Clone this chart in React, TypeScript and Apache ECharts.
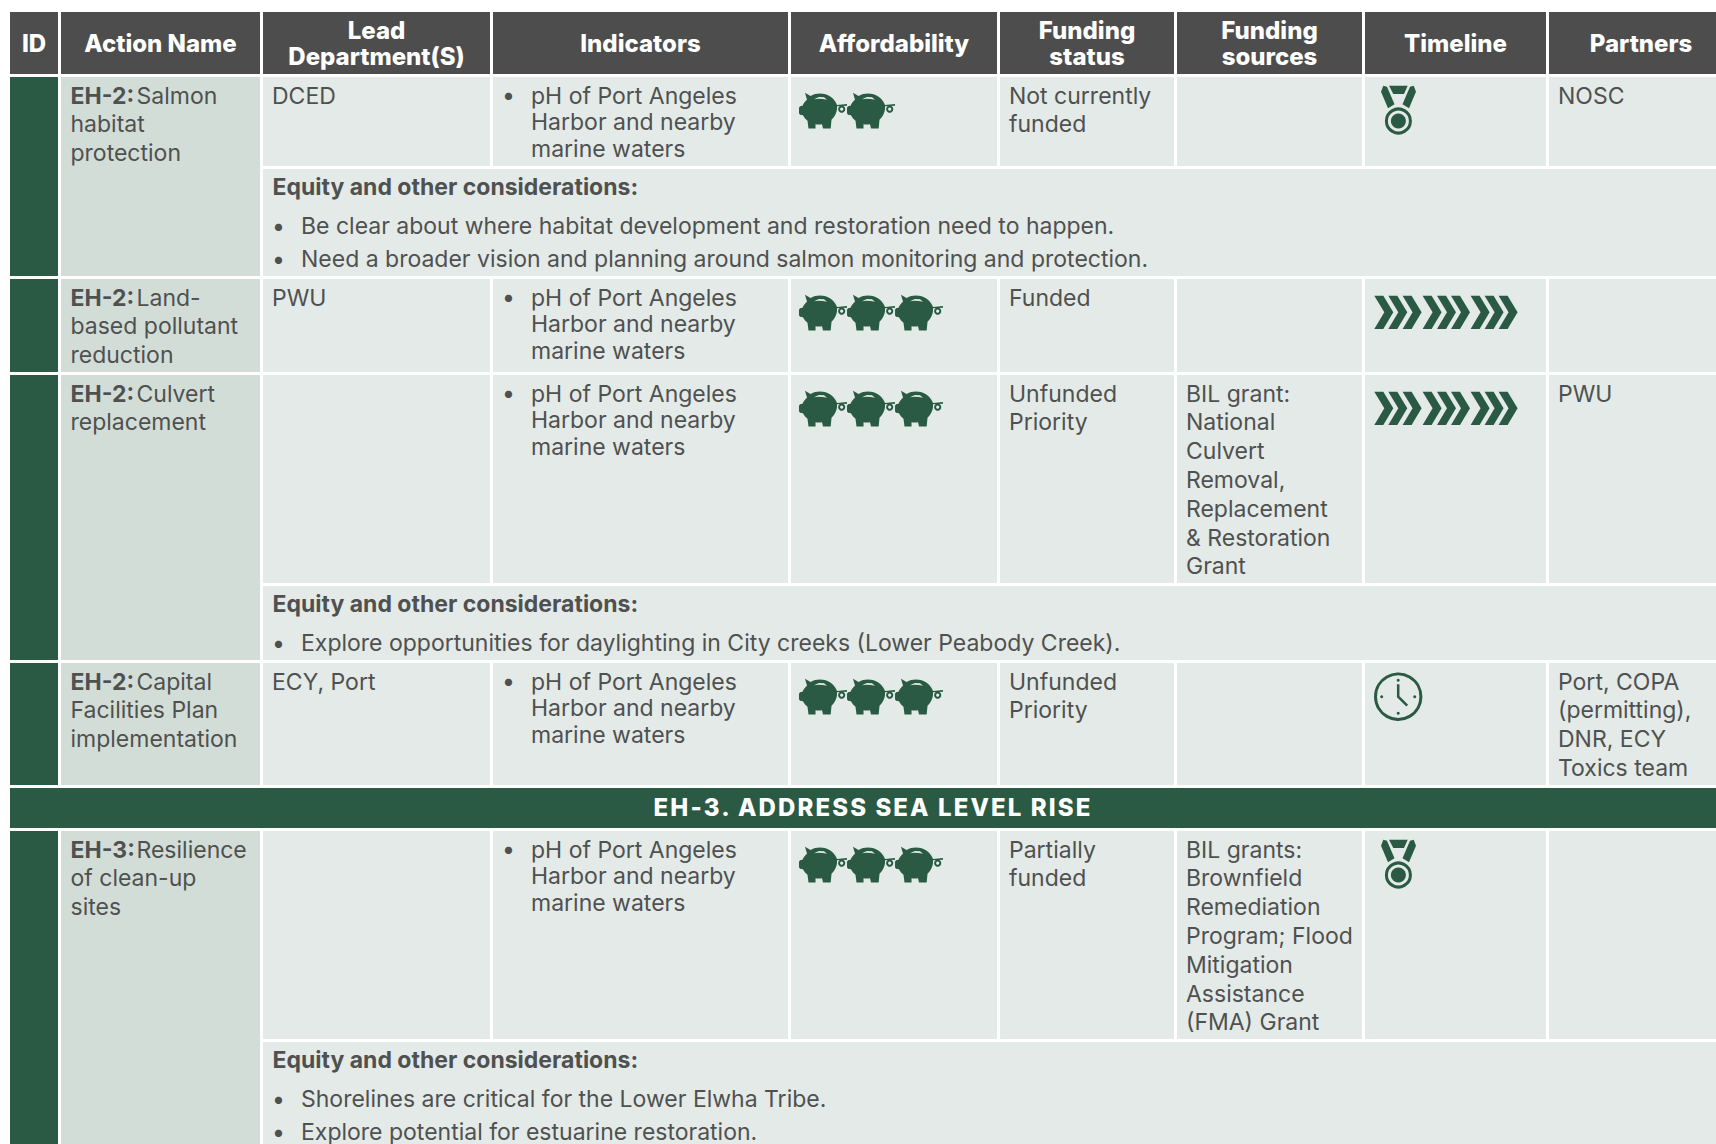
import React, { useEffect, useRef } from "react";
import * as echarts from "echarts";

const GREEN = "#2a5a43";
const HEAD = "#4d4d4d";
const TEXT = "#4f5150";
const CELL = "#e4eae7";
const NAME = "#d3ddd7";
const FONT = "Inter";

const colX = [10, 61, 263, 493, 791, 1000, 1177, 1365, 1549, 1716];
const headerLabels = [["ID"], ["Action Name"], ["Lead", "Department(S)"], ["Indicators"], ["Affordability"], ["Funding", "status"], ["Funding", "sources"], ["Timeline"], ["Partners"]];
const partnersHeaderCentre = 1641;

const indicator = ["pH of Port Angeles", "Harbor and nearby", "marine waters"];
type Row = { top: number; split: number; bottom: number; code: string; name: string[]; lead: string[]; pigs: number; status: string[]; sources: string[]; timeline: string; partners: string[]; notes: string[] };
const rows: Row[] = [
  { top: 77, split: 166, bottom: 276, code: "EH-2:", name: ["Salmon", "habitat", "protection"], lead: ["DCED"], pigs: 2, status: ["Not currently", "funded"], sources: [], timeline: "medal", partners: ["NOSC"], notes: ["Be clear about where habitat development and restoration need to happen.", "Need a broader vision and planning around salmon monitoring and protection."] },
  { top: 279, split: 372, bottom: 372, code: "EH-2:", name: ["Land-", "based pollutant", "reduction"], lead: ["PWU"], pigs: 3, status: ["Funded"], sources: [], timeline: "chevrons", partners: [], notes: [] },
  { top: 375, split: 583, bottom: 660, code: "EH-2:", name: ["Culvert", "replacement"], lead: [], pigs: 3, status: ["Unfunded", "Priority"], sources: ["BIL grant:", "National", "Culvert", "Removal,", "Replacement", "& Restoration", "Grant"], timeline: "chevrons", partners: ["PWU"], notes: ["Explore opportunities for daylighting in City creeks (Lower Peabody Creek)."] },
  { top: 663, split: 785, bottom: 785, code: "EH-2:", name: ["Capital", "Facilities Plan", "implementation"], lead: ["ECY, Port"], pigs: 3, status: ["Unfunded", "Priority"], sources: [], timeline: "clock", partners: ["Port, COPA", "(permitting),", "DNR, ECY", "Toxics team"], notes: [] },
  { top: 831, split: 1039, bottom: 1144, code: "EH-3:", name: ["Resilience", "of clean-up", "sites"], lead: [], pigs: 3, status: ["Partially", "funded"], sources: ["BIL grants:", "Brownfield", "Remediation", "Program; Flood", "Mitigation", "Assistance", "(FMA) Grant"], timeline: "medal", partners: [], notes: ["Shorelines are critical for the Lower Elwha Tribe.", "Explore potential for estuarine restoration."] },
];
const banner = { top: 788, bottom: 828, label: "EH-3. ADDRESS SEA LEVEL RISE" };
const notesTitle = "Equity and other considerations:";

const PIG = "M6 0 L11.5 3.2 C14 1.5 18 0.7 21 0.7 C29 0.7 35 5 37.5 11 L38 12.2 L48 11.3 L48 13 L38 13.6 C38.5 19 36 24 32.5 27 L31.7 35.7 L24 35.7 L23 31.5 C20.5 32 18.5 32 16.5 31.5 L16.5 35.7 L9.5 35.7 L8.5 28 C6.5 26.5 5 24.5 4 22.5 L1 22 L0 20.5 L0 15 L1 13.5 L3.5 13 C4.5 10.5 6 8.5 8 7 Z";
const MEDAL = "M8 0 L26.7 0 L23 8.3 L12.3 8.3 Z M2.3 0 L6 1 L13.5 18.5 L7 22.5 L0 6 Z M32.7 0 L29 1 L21.5 18.5 L28 22.5 L35 6 Z";
echarts.graphic.registerShape("pig", echarts.graphic.extendPath(PIG, {}));
echarts.graphic.registerShape("medal", echarts.graphic.extendPath(MEDAL, {}));

function txt(x: number, y: number, s: string, o: any = {}) {
  return { type: "text", x, y, silent: true, style: { text: s, fill: o.fill ?? TEXT, font: `${o.weight ?? 400} ${o.size ?? 23}px ${FONT}`, textAlign: o.align ?? "left", textVerticalAlign: "middle", textBaseline: "middle" } };
}
function rect(x: number, y: number, w: number, h: number, fill: string) {
  return { type: "rect", shape: { x, y, width: w, height: h }, style: { fill }, silent: true };
}
function pigIcon(x: number, y: number) {
  return { type: "group", children: [
    { type: "pig", x, y, style: { fill: GREEN }, silent: true },
    { type: "circle", shape: { cx: x + 42.7, cy: y + 16.5, r: 2.6 }, style: { fill: "none", stroke: GREEN, lineWidth: 2 }, silent: true },
    { type: "polygon", shape: { points: [[x + 15, y + 6.5], [x + 20, y + 4.3], [x + 25, y + 4.6], [x + 28, y + 7], [x + 24, y + 6.3], [x + 20, y + 6]] }, style: { fill: CELL }, silent: true },
  ] };
}
function medalIcon(x: number, y: number) {
  return { type: "group", children: [
    { type: "medal", x, y, style: { fill: GREEN }, silent: true },
    { type: "circle", shape: { cx: x + 17.4, cy: y + 35.3, r: 12 }, style: { fill: "none", stroke: GREEN, lineWidth: 3 }, silent: true },
    { type: "circle", shape: { cx: x + 17.4, cy: y + 35.3, r: 7.5 }, style: { fill: GREEN }, silent: true },
  ] };
}
function chevronIcon(x: number, y: number) {
  const offs = [0, 14, 28.3, 48.3, 62.7, 76.7, 96.3, 110.3, 124.3];
  return { type: "group", children: offs.map((o) => ({ type: "polygon", shape: { points: [[x + o, y], [x + o + 9, y], [x + o + 19, y + 16.6], [x + o + 9, y + 33.3], [x + o, y + 33.3], [x + o + 10, y + 16.6]] }, style: { fill: GREEN }, silent: true })) };
}
function clockIcon(x: number, y: number) {
  const c = { x: x + 24.2, y: y + 24.4 };
  const dot = (dx: number, dy: number) => ({ type: "circle", shape: { cx: c.x + dx, cy: c.y + dy, r: 1.5 }, style: { fill: GREEN }, silent: true });
  return { type: "group", children: [
    { type: "circle", shape: { cx: c.x, cy: c.y, r: 22.7 }, style: { fill: "none", stroke: GREEN, lineWidth: 3 }, silent: true },
    dot(0, -16.5), dot(0, 16.5), dot(-16.5, 0), dot(16.5, 0),
    { type: "polyline", shape: { points: [[c.x, c.y - 12.5], [c.x, c.y], [c.x + 9, c.y + 9]] }, style: { fill: "none", stroke: GREEN, lineWidth: 2.5 }, silent: true },
  ] };
}

const LH = 28.8;
function lines(x: number, y: number, arr: string[], o: any = {}) {
  return arr.map((s, i) => txt(x, y + i * LH, s, o));
}

function build() {
  const els: any[] = [];
  colX.slice(0, -1).forEach((x, i) => {
    const right = i === colX.length - 2 ? 1716 : colX[i + 1] - 3;
    els.push(rect(x, 12, right - x, 62, HEAD));
    const cx = i === colX.length - 2 ? partnersHeaderCentre : (x + right) / 2;
    const ls = headerLabels[i];
    ls.forEach((s, j) => {
      els.push(txt(cx, 43.5 + (j - (ls.length - 1) / 2) * 26.5, s, { fill: "#fff", weight: 800, size: 24, align: "center" }));
    });
  });
  rows.forEach((r) => {
    els.push(rect(colX[0], r.top, colX[1] - 3 - colX[0], r.bottom - r.top, GREEN));
    els.push(rect(colX[1], r.top, colX[2] - 3 - colX[1], r.bottom - r.top, NAME));
    for (let i = 2; i < 9; i++) {
      const right = i === 8 ? 1716 : colX[i + 1] - 3;
      els.push(rect(colX[i], r.top, right - colX[i], r.split - r.top, CELL));
    }
    if (r.notes.length) els.push(rect(colX[2], r.split + 3, 1716 - colX[2], r.bottom - r.split - 3, CELL));
    const ty = r.top + 18.5;
    const padX = 9.5;
    els.push(txt(colX[1] + padX, ty, r.code, { weight: 700 }));
    els.push(txt(colX[1] + padX + 66, ty, r.name[0]));
    r.name.slice(1).forEach((s, i) => els.push(txt(colX[1] + padX, ty + (i + 1) * LH, s)));
    els.push(...lines(colX[2] + 9, ty, r.lead));
    els.push(txt(colX[3] + 9, ty - 1, "•"));
    indicator.forEach((s, i) => els.push(txt(colX[3] + 38, ty + i * 26.6, s)));
    for (let p = 0; p < r.pigs; p++) els.push(pigIcon(colX[4] + 8 + p * 48, r.top + 15.7));
    els.push(...lines(colX[5] + 9, ty, r.status));
    els.push(...lines(colX[6] + 9, ty, r.sources));
    if (r.timeline === "medal") els.push(medalIcon(colX[7] + 16, r.top + 8.7));
    if (r.timeline === "chevrons") els.push(chevronIcon(colX[7] + 9.3, r.top + 16.7));
    if (r.timeline === "clock") els.push(clockIcon(colX[7] + 9, r.top + 9.3));
    els.push(...lines(colX[8] + 9, ty, r.partners));
    if (r.notes.length) {
      const ny = r.split + 3 + 18;
      els.push(txt(colX[2] + 9.5, ny, notesTitle, { weight: 700 }));
      r.notes.forEach((n, i) => {
        els.push(txt(colX[2] + 9, ny + 39 + i * 32.5, "•"));
        els.push(txt(colX[2] + 38, ny + 39 + i * 32.5, n));
      });
    }
  });
  els.push(rect(colX[0], banner.top, 1716 - colX[0], banner.bottom - banner.top, GREEN));
  els.push(txt(873, 807.5, banner.label, { fill: "#fff", weight: 800, size: 24, align: "center" }));
  return els;
}

export default function App() {
  const ref = useRef<HTMLDivElement>(null);
  useEffect(() => {
    document.body.style.margin = "0";
    document.body.style.background = "#fff";
    const chart = echarts.init(ref.current!, null, { renderer: "svg", width: 1716, height: 1144 });
    chart.setOption({ animation: false, backgroundColor: "#ffffff", graphic: { elements: build() } });
    ref.current!.querySelectorAll("text").forEach((t) => {
      if (t.textContent === banner.label) t.setAttribute("letter-spacing", "2.1");
    });
    return () => chart.dispose();
  }, []);
  return <div ref={ref} style={{ width: 1716, height: 1144, overflow: "hidden" }} />;
}
